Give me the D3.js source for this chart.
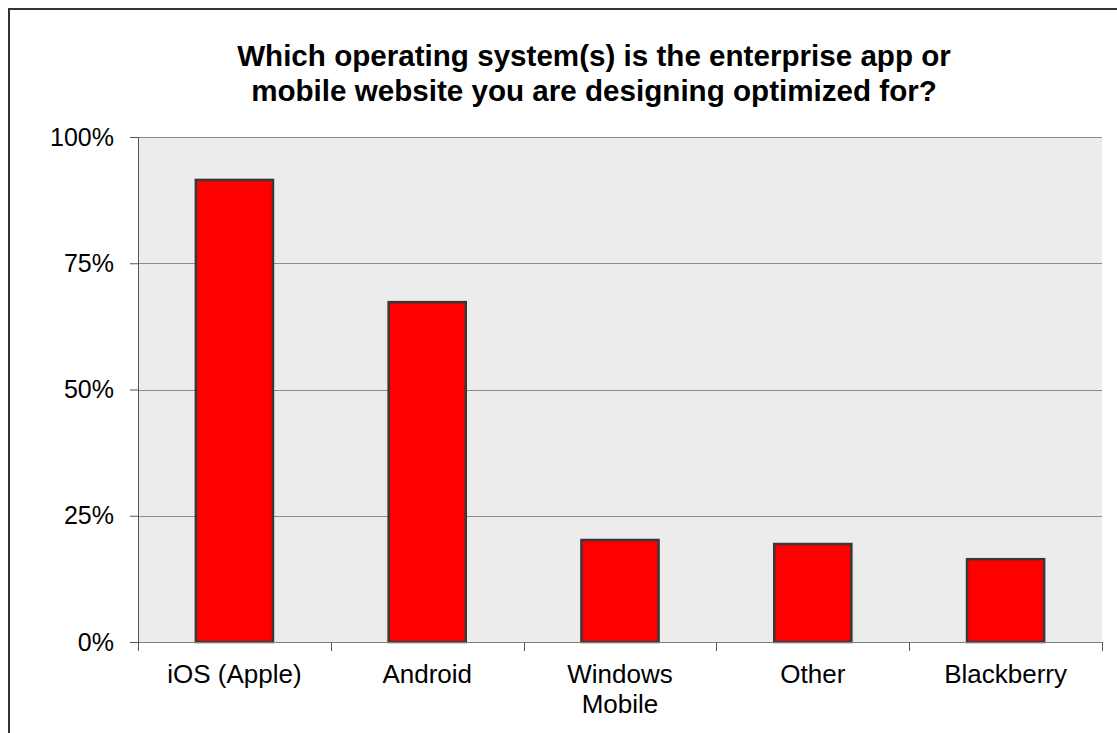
<!DOCTYPE html>
<html>
<head>
<meta charset="utf-8">
<script src="https://cdn.jsdelivr.net/npm/d3@7"></script>
<style>
  html, body { margin: 0; padding: 0; background: #fff; }
  svg { display: block; font-family: "Liberation Sans", Arial, sans-serif; }
</style>
</head>
<body>
<div id="chart"></div>
<script>
// Data
const categories = ['iOS (Apple)', 'Android', 'Windows Mobile', 'Other', 'Blackberry'];
const shares = [0.915, 0.673, 0.202, 0.194, 0.164];
const yTicks = [0, 0.25, 0.5, 0.75, 1];
const titleLines = [
    'Which operating system(s) is the enterprise app or',
    'mobile website you are designing optimized for?'
];

// Dimensions
const dims = {
    width: 1117,
    height: 733,
    marginTop: 137,
    marginLeft: 138,
    plotWidth: 964,
    plotHeight: 505
};

const svg = d3.select('#chart')
    .append('svg')
    .attr('width', dims.width)
    .attr('height', dims.height);

// Outer frame
svg.append('rect')
    .attr('x', 9)
    .attr('y', 9)
    .attr('width', dims.width + 20)
    .attr('height', dims.height + 20)
    .attr('fill', 'none')
    .attr('stroke', '#333')
    .attr('stroke-width', 2);

// Title
svg.append('text')
    .attr('x', 594)
    .attr('y', 66)
    .attr('text-anchor', 'middle')
    .attr('font-size', 29.6)
    .attr('font-weight', 'bold')
    .attr('fill', '#000')
    .selectAll('tspan')
    .data(titleLines)
    .enter()
    .append('tspan')
        .attr('x', 594)
        .attr('dy', (d, i) => i === 0 ? 0 : 35)
        .text(d => d);

const graph = svg.append('g')
    .attr('transform', `translate(${dims.marginLeft}, ${dims.marginTop})`);

// Scales
const xScale = d3.scaleBand()
    .domain(categories)
    .range([0, dims.plotWidth])
    .paddingInner(0.6)
    .paddingOuter(0.3);

const yScale = d3.scaleLinear()
    .domain([0, 1])
    .range([dims.plotHeight, 0]);

// Plot background
graph.append('rect')
    .attr('width', dims.plotWidth)
    .attr('height', dims.plotHeight)
    .attr('fill', '#ececec');

// Gridlines
graph.append('g')
    .selectAll('line')
    .data(yTicks.filter(d => d > 0))
    .enter()
    .append('line')
        .attr('x1', 0)
        .attr('x2', dims.plotWidth)
        .attr('y1', d => Math.round(yScale(d)) + 0.5)
        .attr('y2', d => Math.round(yScale(d)) + 0.5)
        .attr('stroke', '#8c8c8c')
        .attr('stroke-width', 1);

// Bars
graph.append('g')
    .selectAll('rect')
    .data(categories)
    .enter()
    .append('rect')
        .attr('x', d => xScale(d))
        .attr('y', (d, i) => yScale(shares[i]))
        .attr('width', xScale.bandwidth())
        .attr('height', (d, i) => dims.plotHeight - yScale(shares[i]))
        .attr('fill', '#ff0000')
        .attr('stroke', '#383838')
        .attr('stroke-width', 2.5);

// Y axis
const yAxis = d3.axisLeft(yScale)
    .tickValues(yTicks)
    .tickSize(8)
    .tickPadding(16)
    .tickFormat(d3.format('.0%'));

const yAxisGroup = graph.append('g')
    .attr('class', 'y-axis')
    .call(yAxis);

yAxisGroup.select('.domain')
    .attr('stroke', '#555');
yAxisGroup.selectAll('.tick line')
    .attr('stroke', '#555');
yAxisGroup.selectAll('.tick text')
    .attr('font-size', 25)
    .attr('font-family', '"Liberation Sans", Arial, sans-serif')
    .attr('fill', '#000');

// X axis
const xAxisGroup = graph.append('g')
    .attr('class', 'x-axis')
    .attr('transform', `translate(0, ${dims.plotHeight})`);

xAxisGroup.append('line')
    .attr('x1', 0)
    .attr('x2', dims.plotWidth)
    .attr('y1', 0.5)
    .attr('y2', 0.5)
    .attr('stroke', '#808080');

// Category boundary ticks
const step = xScale.step();
const boundaries = categories.map(d => xScale(d) - step * xScale.paddingInner() / 2)
    .concat([dims.plotWidth]);

xAxisGroup.selectAll('.boundary')
    .data(boundaries)
    .enter()
    .append('line')
        .attr('class', 'boundary')
        .attr('x1', d => Math.round(d) + 0.5)
        .attr('x2', d => Math.round(d) + 0.5)
        .attr('y1', 0)
        .attr('y2', 9)
        .attr('stroke', '#555');

// Category labels
const labels = xAxisGroup.selectAll('.label')
    .data(categories)
    .enter()
    .append('text')
        .attr('class', 'label')
        .attr('text-anchor', 'middle')
        .attr('font-size', 26)
        .attr('fill', '#000');

labels.selectAll('tspan')
    .data(d => d === 'Windows Mobile' ? ['Windows', 'Mobile'] : [d])
    .enter()
    .append('tspan')
        .attr('x', function() { const c = d3.select(this.parentNode).datum(); return xScale(c) + xScale.bandwidth() / 2; })
        .attr('y', (d, i) => 41 + i * 30)
        .text(d => d);
</script>
</body>
</html>
